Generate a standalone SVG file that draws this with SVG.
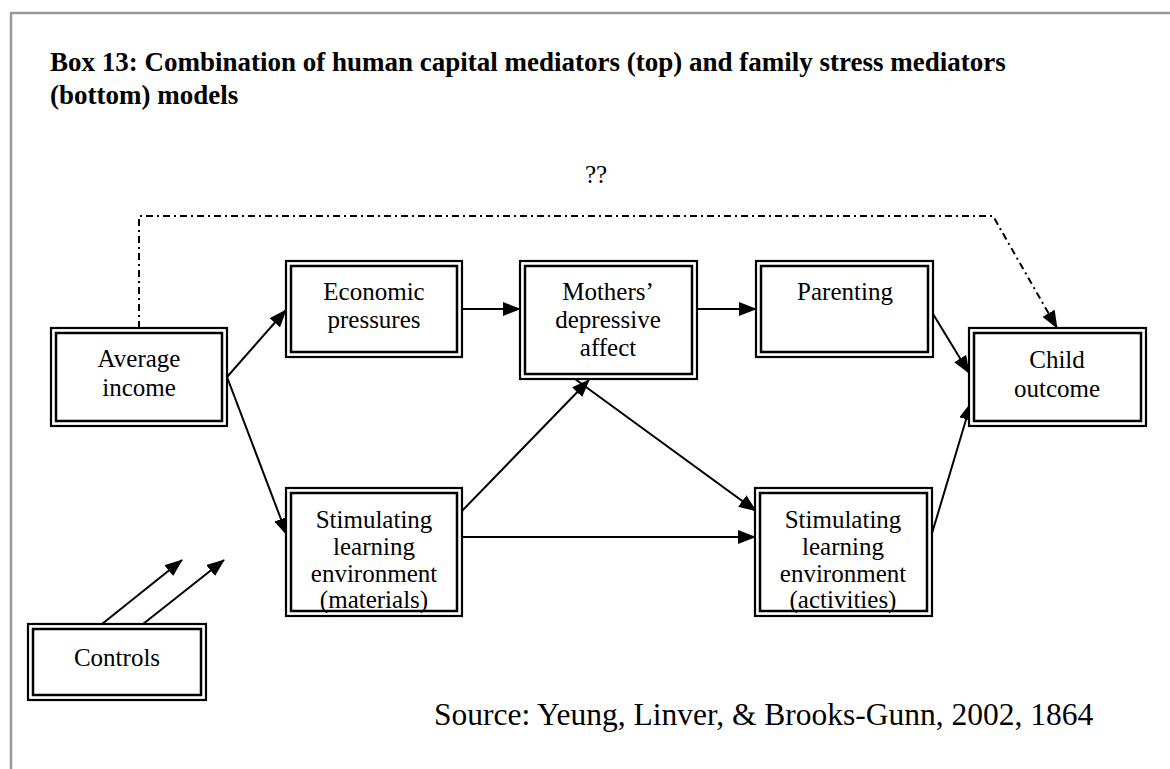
<svg xmlns="http://www.w3.org/2000/svg" width="1170" height="769" viewBox="0 0 1170 769">
<style>
.t{font-family:"Liberation Serif","Times New Roman",serif;font-size:25px;fill:#000;text-anchor:middle}
.ti{font-family:"Liberation Serif","Times New Roman",serif;font-size:27px;font-weight:bold;fill:#000}
.o{fill:#fff;stroke:#000;stroke-width:2.2}
.i{fill:none;stroke:#000;stroke-width:2.5}
.c{fill:none;stroke:#000;stroke-width:2}
.d{fill:none;stroke:#000;stroke-width:2;stroke-dasharray:7 4 2 4}
</style>
<defs>
<marker id="ah" markerUnits="userSpaceOnUse" markerWidth="19" markerHeight="14" refX="17" refY="7" orient="auto">
<path d="M0,0 L18,7 L0,14 Z" fill="#000"/>
</marker>
</defs>
<rect width="1170" height="769" fill="#fff"/>
<path d="M11,769 V13 H1170" fill="none" stroke="#999" stroke-width="2.5"/>
<text class="ti" x="50" y="71">Box 13: Combination of human capital mediators (top) and family stress mediators</text>
<text class="ti" x="50" y="104">(bottom) models</text>
<text class="t" x="596" y="183">??</text>
<g id="connectors">
<path class="d" d="M139,328 V216 H993 L1057,328" marker-end="url(#ah)"/>
<path class="c" d="M227,377 L286,310" marker-end="url(#ah)"/>
<path class="c" d="M227,377 L287,535" marker-end="url(#ah)"/>
<path class="c" d="M462,309 L520,309" marker-end="url(#ah)"/>
<path class="c" d="M697,309 L756,309" marker-end="url(#ah)"/>
<path class="c" d="M930,309 L969,373" marker-end="url(#ah)"/>
<path class="c" d="M930,540 L971,403" marker-end="url(#ah)"/>
<path class="c" d="M460,513 L589,380" marker-end="url(#ah)"/>
<path class="c" d="M575,379 L756,511" marker-end="url(#ah)"/>
<path class="c" d="M462,537 L755,537" marker-end="url(#ah)"/>
<path class="c" d="M97,628 L182,560" marker-end="url(#ah)"/>
<path class="c" d="M138,628 L224,560" marker-end="url(#ah)"/>
</g>
<g id="average-income">
<rect class="o" x="51" y="328" width="176" height="98"/>
<rect class="i" x="56" y="333" width="166" height="88"/>
<text class="t" x="139" y="367">Average</text>
<text class="t" x="139" y="396">income</text>
</g>
<g id="economic-pressures">
<rect class="o" x="286" y="261" width="176" height="96"/>
<rect class="i" x="291" y="266" width="166" height="86"/>
<text class="t" x="374" y="300">Economic</text>
<text class="t" x="374" y="328">pressures</text>
</g>
<g id="mothers-depressive-affect">
<rect class="o" x="520" y="261" width="177" height="118"/>
<rect class="i" x="525" y="266" width="167" height="108"/>
<text class="t" x="608" y="300">Mothers’</text>
<text class="t" x="608" y="328">depressive</text>
<text class="t" x="608" y="356">affect</text>
</g>
<g id="parenting">
<rect class="o" x="756" y="261" width="177" height="96"/>
<rect class="i" x="761" y="266" width="167" height="86"/>
<text class="t" x="845" y="300">Parenting</text>
</g>
<g id="child-outcome">
<rect class="o" x="969" y="328" width="177" height="98"/>
<rect class="i" x="974" y="333" width="167" height="88"/>
<text class="t" x="1057" y="368">Child</text>
<text class="t" x="1057" y="397">outcome</text>
</g>
<g id="stim-materials">
<rect class="o" x="286" y="488" width="176" height="128"/>
<rect class="i" x="291" y="493" width="166" height="118"/>
<text class="t" x="374" y="528">Stimulating</text>
<text class="t" x="374" y="555">learning</text>
<text class="t" x="374" y="582">environment</text>
<text class="t" x="374" y="608">(materials)</text>
</g>
<g id="stim-activities">
<rect class="o" x="755" y="488" width="177" height="128"/>
<rect class="i" x="760" y="493" width="167" height="118"/>
<text class="t" x="843" y="528">Stimulating</text>
<text class="t" x="843" y="555">learning</text>
<text class="t" x="843" y="582">environment</text>
<text class="t" x="843" y="608">(activities)</text>
</g>
<g id="controls">
<rect class="o" x="28" y="624" width="178" height="76"/>
<rect class="i" x="33" y="629" width="168" height="66"/>
<text class="t" x="117" y="666">Controls</text>
</g>
<text x="434" y="725" style="font-family:'Liberation Serif','Times New Roman',serif;font-size:31.5px;fill:#000">Source: Yeung, Linver, &amp; Brooks-Gunn, 2002, 1864</text>
</svg>
